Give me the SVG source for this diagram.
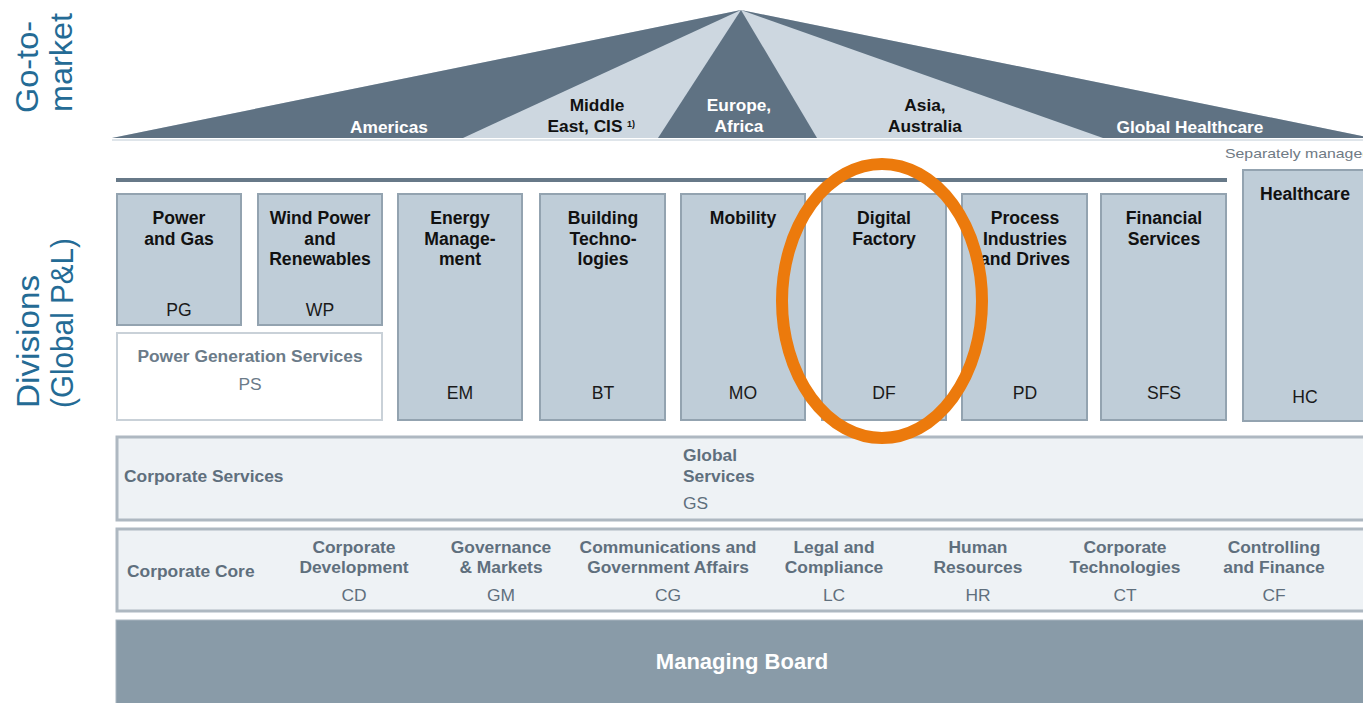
<svg xmlns="http://www.w3.org/2000/svg" width="1363" height="703" viewBox="0 0 1363 703">
<style>
text{font-family:"Liberation Sans",Arial,sans-serif}
.side{font-size:32px;fill:#246b95}
.roofd{font-size:17.3px;font-weight:bold;fill:#ffffff;text-anchor:middle}
.roofl{font-size:17.3px;font-weight:bold;fill:#111111;text-anchor:middle}
.div{fill:#bfcdd8;stroke:#93a3b0;stroke-width:2}
.t{font-size:17.6px;font-weight:bold;fill:#111111;text-anchor:middle}
.code{font-size:17.6px;fill:#1a1a1a;text-anchor:middle}
.corp{fill:#eef2f5;stroke:#aeb8c1;stroke-width:3}
.ct{font-size:17.4px;font-weight:bold;fill:#5f6f7d;text-anchor:middle}
.cc{font-size:17.4px;fill:#5f6f7d;text-anchor:middle}
.cl{font-size:17.4px;font-weight:bold;fill:#5f6f7d}
</style>
<rect width="1363" height="703" fill="#ffffff"/>

<g id="side-labels">
<text class="side" transform="translate(38,113) rotate(-90)" textLength="92" lengthAdjust="spacingAndGlyphs">Go-to-</text>
<text class="side" transform="translate(72,112) rotate(-90)" textLength="99" lengthAdjust="spacingAndGlyphs">market</text>
<text class="side" transform="translate(39,408) rotate(-90)" textLength="133" lengthAdjust="spacingAndGlyphs">Divisions</text>
<text class="side" transform="translate(73,408) rotate(-90)" textLength="170" lengthAdjust="spacingAndGlyphs">(Global P&amp;L)</text>
</g>

<g id="roof">
<polygon points="741,10 112,138 1372,138" fill="#cdd7e0"/>
<polygon points="741,10 112,138 463,138" fill="#5f7283"/>
<polygon points="741,10 658,138 817,138" fill="#5f7283"/>
<polygon points="741,10 1103,138 1372,138" fill="#5f7283"/>
<line x1="112" y1="140" x2="1363" y2="140" stroke="#dfe5ea" stroke-width="2"/>
<text class="roofd" x="389" y="133">Americas</text>
<text class="roofl" x="597" y="111">Middle</text>
<text class="roofl" x="585" y="132">East, CIS</text>
<text x="627" y="127" font-size="9" font-weight="bold" fill="#111111">1)</text>
<text class="roofd" x="739" y="111">Europe,</text>
<text class="roofd" x="739" y="132">Africa</text>
<text class="roofl" x="925" y="111">Asia,</text>
<text class="roofl" x="925" y="132">Australia</text>
<text class="roofd" x="1190" y="133">Global Healthcare</text>
</g>

<text x="1225" y="158" font-size="13.5" fill="#6f7a84" textLength="146" lengthAdjust="spacingAndGlyphs">Separately managed</text>
<line x1="116" y1="180" x2="1227" y2="180" stroke="#677988" stroke-width="4"/>

<g id="node-PG">
<rect class="div" x="117" y="194" width="124" height="131"/>
<text class="t" x="179" y="224">Power</text>
<text class="t" x="179" y="245">and Gas</text>
<text class="code" x="179" y="316">PG</text>
</g>
<g id="node-WP">
<rect class="div" x="258" y="194" width="124" height="131"/>
<text class="t" x="320" y="224">Wind Power</text>
<text class="t" x="320" y="245">and</text>
<text class="t" x="320" y="265">Renewables</text>
<text class="code" x="320" y="316">WP</text>
</g>
<g id="node-PS">
<rect x="117" y="333" width="265" height="87" fill="#ffffff" stroke="#c9d1d8" stroke-width="2"/>
<text x="250" y="362" font-size="17.4px" font-weight="bold" fill="#6b7b89" text-anchor="middle">Power Generation Services</text>
<text x="250" y="390" font-size="17.4px" fill="#6b7b89" text-anchor="middle">PS</text>
</g>
<g id="node-EM">
<rect class="div" x="398" y="194" width="124" height="226"/>
<text class="t" x="460" y="224">Energy</text>
<text class="t" x="460" y="245">Manage-</text>
<text class="t" x="460" y="265">ment</text>
<text class="code" x="460" y="399">EM</text>
</g>
<g id="node-BT">
<rect class="div" x="540" y="194" width="125" height="226"/>
<text class="t" x="603" y="224">Building</text>
<text class="t" x="603" y="245">Techno-</text>
<text class="t" x="603" y="265">logies</text>
<text class="code" x="603" y="399">BT</text>
</g>
<g id="node-MO">
<rect class="div" x="681" y="194" width="124" height="226"/>
<text class="t" x="743" y="224">Mobility</text>
<text class="code" x="743" y="399">MO</text>
</g>
<g id="node-DF">
<rect class="div" x="822" y="194" width="124" height="226"/>
<text class="t" x="884" y="224">Digital</text>
<text class="t" x="884" y="245">Factory</text>
<text class="code" x="884" y="399">DF</text>
</g>
<g id="node-PD">
<rect class="div" x="962" y="194" width="125" height="226"/>
<text class="t" x="1025" y="224">Process</text>
<text class="t" x="1025" y="245">Industries</text>
<text class="t" x="1025" y="265">and Drives</text>
<text class="code" x="1025" y="399">PD</text>
</g>
<g id="node-SFS">
<rect class="div" x="1101" y="194" width="125" height="226"/>
<text class="t" x="1164" y="224">Financial</text>
<text class="t" x="1164" y="245">Services</text>
<text class="code" x="1164" y="399">SFS</text>
</g>
<g id="node-HC">
<rect class="div" x="1243" y="170" width="130" height="251"/>
<text class="t" x="1305" y="200">Healthcare</text>
<text class="code" x="1305" y="403">HC</text>
</g>

<g id="node-corporate-services">
<rect class="corp" x="117" y="437" width="1256" height="83"/>
<text class="cl" x="124" y="482">Corporate Services</text>
<text class="cl" x="683" y="461">Global</text>
<text class="cl" x="683" y="482">Services</text>
<text x="683" y="509" font-size="17.4px" fill="#5f6f7d">GS</text>
</g>

<g id="node-corporate-core">
<rect class="corp" x="117" y="529" width="1256" height="82"/>
<text class="cl" x="127" y="577">Corporate Core</text>
<text class="ct" x="354" y="553">Corporate</text>
<text class="ct" x="354" y="573">Development</text>
<text class="cc" x="354" y="601">CD</text>
<text class="ct" x="501" y="553">Governance</text>
<text class="ct" x="501" y="573">&amp; Markets</text>
<text class="cc" x="501" y="601">GM</text>
<text class="ct" x="668" y="553">Communications and</text>
<text class="ct" x="668" y="573">Government Affairs</text>
<text class="cc" x="668" y="601">CG</text>
<text class="ct" x="834" y="553">Legal and</text>
<text class="ct" x="834" y="573">Compliance</text>
<text class="cc" x="834" y="601">LC</text>
<text class="ct" x="978" y="553">Human</text>
<text class="ct" x="978" y="573">Resources</text>
<text class="cc" x="978" y="601">HR</text>
<text class="ct" x="1125" y="553">Corporate</text>
<text class="ct" x="1125" y="573">Technologies</text>
<text class="cc" x="1125" y="601">CT</text>
<text class="ct" x="1274" y="553">Controlling</text>
<text class="ct" x="1274" y="573">and Finance</text>
<text class="cc" x="1274" y="601">CF</text>
</g>

<g id="node-managing-board">
<rect x="116" y="620" width="1257" height="90" fill="#899ba8" stroke="#aab6bf" stroke-width="1"/>
<text x="742" y="669" font-size="22px" font-weight="bold" fill="#ffffff" text-anchor="middle">Managing Board</text>
</g>

<g id="highlight">
<ellipse cx="882" cy="301" rx="100" ry="137" fill="none" stroke="#ec7a0c" stroke-width="12"/>
</g>
<g id="connectors"/>
</svg>
